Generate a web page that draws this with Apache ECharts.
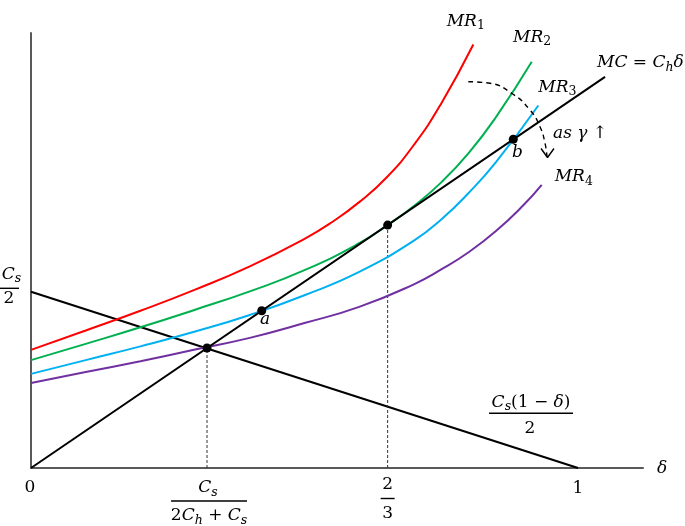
<!DOCTYPE html>
<html><head><meta charset="utf-8">
<script src="https://cdn.jsdelivr.net/npm/echarts@6/dist/echarts.min.js"></script>
<style>html,body{margin:0;padding:0;background:#fff}#c{width:685px;height:526px}</style>
</head><body><div id="c"></div>
<script>
// ---- data (schematic units: delta on x, value on y with Cs/2 = 0.5) ----
const deltaMR1 = [0, 0.1, 0.2, 0.3, 0.4, 0.5, 0.55, 0.6, 0.65, 0.7, 0.75, 0.8086];
const valMR1   = [0.335, 0.39, 0.446, 0.506, 0.572, 0.65, 0.697, 0.754, 0.824, 0.9165, 1.034, 1.201];
const deltaMR2 = [0, 0.1, 0.2, 0.3, 0.4, 0.5, 0.6, 0.652, 0.7, 0.75, 0.8, 0.85, 0.9154];
const valMR2   = [0.306, 0.352, 0.399, 0.449, 0.501, 0.561, 0.6375, 0.689, 0.743, 0.810, 0.893, 0.995, 1.152];
const deltaMR3 = [0, 0.1, 0.2, 0.3, 0.4, 0.5, 0.6, 0.7, 0.75, 0.8, 0.85, 0.9274];
const valMR3   = [0.267, 0.306, 0.345, 0.387, 0.434, 0.49, 0.556, 0.645, 0.705, 0.78, 0.8675, 1.028];
const deltaMR4 = [0, 0.1, 0.2, 0.3, 0.4, 0.5, 0.6, 0.7, 0.75, 0.8, 0.85, 0.9, 0.9336];
const valMR4   = [0.241, 0.272, 0.303, 0.336, 0.369, 0.411, 0.457, 0.521, 0.563, 0.612, 0.672, 0.745, 0.803];
const deltaMC  = [0, 1.0494];
const valMC    = [0, 1.1094];
const deltaCs  = [0, 1];
const valCs    = [0.5, 0];
const eqDelta  = [0.3218, 0.4218, 0.652, 0.8817];
const eqVal    = [0.3403, 0.446, 0.689, 0.9325];
const eqNames  = ['', 'a', '', 'b'];
const arcX     = [0.7995, 0.8391, 0.8788, 0.9122, 0.9305, 0.9397, 0.9433];
const arcY     = [1.0956, 1.0910, 1.0627, 1.0153, 0.9680, 0.9209, 0.882];
const headX    = [0.9324, 0.9442, 0.9561];
const headY    = [0.9061, 0.8806, 0.9061];
const xTickVals = [0, 0.3218, 0.652, 1];
const yTickVal  = 0.5;
const X_MAX = 1.1188, Y_MAX = 1.2337;

const zip = (xs, ys) => xs.map((x, i) => [x, ys[i]]);
const FONT = 'DejaVu Serif';
const FS = 17;
const RICH = {
  i:  {fontFamily: FONT, fontStyle: 'italic', fontSize: FS, lineHeight: 22, fill: '#000'},
  n:  {fontFamily: FONT, fontSize: FS, lineHeight: 22, fill: '#000'},
  si: {fontFamily: FONT, fontStyle: 'italic', fontSize: 12.5, lineHeight: 14, verticalAlign: 'bottom', fill: '#000'},
  sn: {fontFamily: FONT, fontSize: 12.5, lineHeight: 14, verticalAlign: 'bottom', fill: '#000'}
};

function curve(name, xs, ys, color) {
  return {name, type: 'line', data: zip(xs, ys), smooth: 0.5,
    showSymbol: false, lineStyle: {color, width: 2}, z: 3, silent: true};
}

const option = {
  animation: false,
  backgroundColor: '#fff',
  grid: {left: 31, top: 33, right: 42, bottom: 58},
  xAxis: {type: 'value', min: 0, max: X_MAX, axisLine: {lineStyle: {color: '#595959', width: 2}},
    axisTick: {show: false}, axisLabel: {show: false}, splitLine: {show: false}},
  yAxis: {type: 'value', min: 0, max: Y_MAX, axisLine: {show: true, lineStyle: {color: '#595959', width: 2}},
    axisTick: {show: false}, axisLabel: {show: false}, splitLine: {show: false}},
  series: [
    {type: 'line', data: zip(deltaCs, valCs), showSymbol: false, lineStyle: {color: '#000', width: 2}, z: 2, silent: true},
    {type: 'line', data: [[eqDelta[0], 0], [eqDelta[0], eqVal[0]]], showSymbol: false,
      lineStyle: {color: '#333', width: 1, type: [3, 2]}, z: 2, silent: true},
    {type: 'line', data: [[eqDelta[2], 0], [eqDelta[2], eqVal[2]]], showSymbol: false,
      lineStyle: {color: '#333', width: 1, type: [3, 2]}, z: 2, silent: true},
    curve('MR1', deltaMR1, valMR1, '#FF0000'),
    curve('MR2', deltaMR2, valMR2, '#00B050'),
    curve('MR3', deltaMR3, valMR3, '#00B0F0'),
    curve('MR4', deltaMR4, valMR4, '#7030A0'),
    {type: 'line', data: zip(deltaMC, valMC), showSymbol: false, lineStyle: {color: '#000', width: 2}, z: 4, silent: true},
    {type: 'line', data: zip(arcX, arcY), smooth: 0.5, showSymbol: false,
      lineStyle: {color: '#000', width: 1.4, type: [5, 4]}, z: 4, silent: true},
    {type: 'line', data: zip(headX, headY), showSymbol: false,
      lineStyle: {color: '#000', width: 1.4}, z: 4, silent: true},
    {type: 'scatter', data: zip(eqDelta, eqVal), symbolSize: 9, itemStyle: {color: '#000', opacity: 1}, z: 5, silent: true}
  ]
};

const chart = echarts.init(document.getElementById('c'));
chart.setOption(option);

const P = (x, y) => chart.convertToPixel({gridIndex: 0}, [x, y]);
const G = [];
function txt(p, dx, dy, text, align) {
  G.push({type: 'text', x: p[0] + dx, y: p[1] + dy, z: 100, silent: true,
    style: {text, rich: RICH, fill: '#000', align: align || 'center', verticalAlign: 'middle',
      textAlign: align || 'center', textVerticalAlign: 'middle'}});
}
function bar(p, dx1, dx2, dy) {
  G.push({type: 'line', z: 100, silent: true,
    shape: {x1: p[0] + dx1, y1: p[1] + dy, x2: p[0] + dx2, y2: p[1] + dy},
    style: {stroke: '#000', lineWidth: 1.4}});
}

// x tick labels
const t0 = P(xTickVals[0], 0), t1 = P(xTickVals[1], 0), t2 = P(xTickVals[2], 0), t3 = P(xTickVals[3], 0);
txt(t0, -1, 20, '{n|0}');
txt(t1, 1, 20, '{i|C}{si|s}');
bar(t1, -36, 40, 33);
txt(t1, 2, 48, '{n|2}{i|C}{si|h}{n| + }{i|C}{si|s}');
txt(t2, 0, 17, '{n|2}');
bar(t2, -7, 7, 30.5);
txt(t2, 0, 46, '{n|3}');
txt(t3, 0, 21, '{n|1}');
txt(P(X_MAX, 0), 19, 1, '{i|δ}');

// y tick label Cs/2
const ty = P(0, yTickVal);
txt(ty, -19.5, -17.5, '{i|C}{si|s}');
bar(ty, -31, -12, -3.4);
txt(ty, -22, 7.3, '{n|2}');

// Cs(1-δ)/2 label near the end of the line
const tc = P(deltaCs[1], valCs[1]);
txt(tc, -47, -65.5, '{i|C}{si|s}{n|(1 − }{i|δ}{n|)}');
bar(tc, -89, -5, -54.7);
txt(tc, -48, -39.5, '{n|2}');

// curve labels
const end = (xs, ys) => P(xs[xs.length - 1], ys[ys.length - 1]);
txt(end(deltaMR1, valMR1), -26.6, -23, '{i|MR}{sn|1}', 'left');
txt(end(deltaMR2, valMR2), -18.7, -24.2, '{i|MR}{sn|2}', 'left');
txt(end(deltaMR3, valMR3), 0, -18, '{i|MR}{sn|3}', 'left');
txt(end(deltaMR4, valMR4), 13, -8, '{i|MR}{sn|4}', 'left');
txt(end(deltaMC, valMC), -8, -14, '{i|MC}{n| = }{i|C}{si|h}{i|δ}', 'left');
txt(P(headX[1], headY[1]), 5.5, -23.5, '{i|as γ}{n| ↑}', 'left');
txt(P(eqDelta[1], eqVal[1]), -1.7, 8.5, '{i|' + eqNames[1] + '}', 'left');
txt(P(eqDelta[3], eqVal[3]), -1.3, 13, '{i|' + eqNames[3] + '}', 'left');

chart.setOption({graphic: G});
</script>
</body></html>
